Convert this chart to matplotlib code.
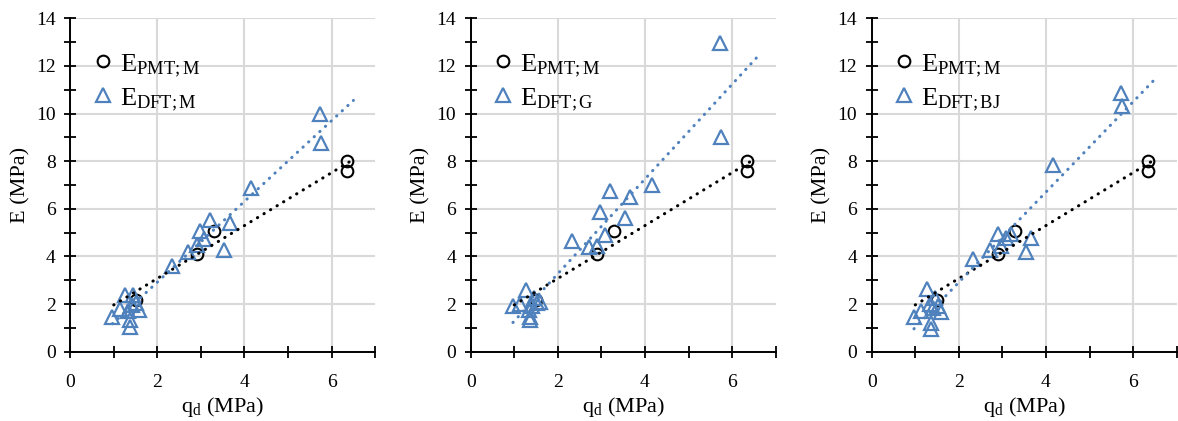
import numpy as np
import matplotlib
matplotlib.use("Agg")
import matplotlib.pyplot as plt
from matplotlib.ticker import MultipleLocator

plt.rcParams['font.family'] = ['Liberation Serif', 'DejaVu Serif']
plt.rcParams['mathtext.fontset'] = 'custom'
plt.rcParams['mathtext.rm'] = 'Liberation Serif'
plt.rcParams['mathtext.it'] = 'Liberation Serif:italic'

# ---- data ----
q_pmt = [1.50, 2.90, 3.30, 6.35, 6.35]
E_pmt = [2.15, 4.10, 5.08, 8.00, 7.60]

q_dft = [0.97, 1.14, 1.26, 1.45, 1.52, 1.33, 1.58, 1.37, 1.37, 1.41,
         2.33, 2.71, 2.90, 2.97, 3.08, 3.20, 3.54, 3.66, 4.16, 5.73, 5.75]
E_dft_M = [1.47, 1.80, 2.40, 2.38, 2.03, 1.70, 1.75, 1.33, 1.02, 1.95,
           3.61, 4.17, 4.48, 5.08, 4.72, 5.53, 4.27, 5.39, 6.89, 9.97, 8.78]
E_dft_G = [1.92, 2.00, 2.60, 2.25, 2.05, 1.75, 2.10, 1.45, 1.35, 1.90,
           4.66, 4.41, 4.44, 5.88, 4.90, 6.76, 5.60, 6.51, 7.00, 12.95, 9.02]
E_dft_BJ = [1.45, 1.72, 2.62, 2.25, 1.92, 2.00, 1.65, 1.20, 0.95, 1.85,
            3.88, 4.28, 4.93, 4.45, 4.78, 4.95, 4.20, 4.76, 7.83, 10.87, 10.31]

label_pmt = r'$\mathrm{E_{PMT;M}}$'
labels_dft = [r'$\mathrm{E_{DFT;M}}$', r'$\mathrm{E_{DFT;G}}$', r'$\mathrm{E_{DFT;BJ}}$']
series_dft = [E_dft_M, E_dft_G, E_dft_BJ]
trend_end_blue = [6.5, 6.6, 6.5]

xlabel = r'q$_\mathrm{d}$ (MPa)'
ylabel = 'E (MPa)'

BLUE = '#4F81BD'
W, H = 1178, 421
fig = plt.figure(figsize=(W / 100, H / 100), dpi=100)
lefts = [70.2, 470.7, 871.7]

for i, left in enumerate(lefts):
    ax = fig.add_axes([left / W, (H - 351.7) / H, 305 / W, 333.4 / H])
    ax.set_xlim(0, 7)
    ax.set_ylim(0, 14)
    ax.xaxis.set_major_locator(MultipleLocator(2))
    ax.xaxis.set_minor_locator(MultipleLocator(1))
    ax.yaxis.set_major_locator(MultipleLocator(2))
    ax.yaxis.set_minor_locator(MultipleLocator(1))
    ax.grid(True, which='major', color='#d9d9d9', lw=1.5, zorder=0)
    ax.set_axisbelow(True)
    for s in ['top', 'right']:
        ax.spines[s].set_visible(False)
    for s in ['left', 'bottom']:
        ax.spines[s].set_linewidth(1.4)
        ax.spines[s].set_color('black')
    ax.tick_params(which='both', direction='inout', length=8, width=1.3,
                   labelsize=14, colors='black')
    ax.tick_params(axis='x', pad=12)
    ax.tick_params(axis='y', pad=6.5)

    ax.plot(q_pmt, E_pmt, ls='none', marker='o', ms=8.4, mfc='none',
            mec='black', mew=1.5, zorder=3, label=label_pmt)
    E = series_dft[i]
    ax.plot(q_dft, E, ls='none', marker='^', ms=9.5, mfc='none',
            mec=BLUE, mew=1.6, zorder=4, label=labels_dft[i])

    # linear trendlines
    p1 = np.polyfit(q_pmt, E_pmt, 1)
    xs = np.array([1.0, 6.5])
    ax.plot(xs, np.polyval(p1, xs), color='black', lw=2.2,
            ls=(0, (0.1, 2.4)), dash_capstyle='round', zorder=5)
    p2 = np.polyfit(q_dft, E, 1)
    xs2 = np.array([0.97, trend_end_blue[i]])
    ax.plot(xs2, np.polyval(p2, xs2), color=BLUE, lw=2.2,
            ls=(0, (0.1, 2.4)), dash_capstyle='round', zorder=5)

    ax.set_xlabel(xlabel, fontsize=16, labelpad=3)
    ax.set_ylabel(ylabel, fontsize=16, labelpad=4)

    leg = ax.legend(loc='upper left', bbox_to_anchor=(0.02, 0.93),
                    frameon=False, fontsize=19, handletextpad=0.05,
                    labelspacing=0.28, handlelength=1.2, borderaxespad=0)

fig.savefig('out.png', dpi=100)
